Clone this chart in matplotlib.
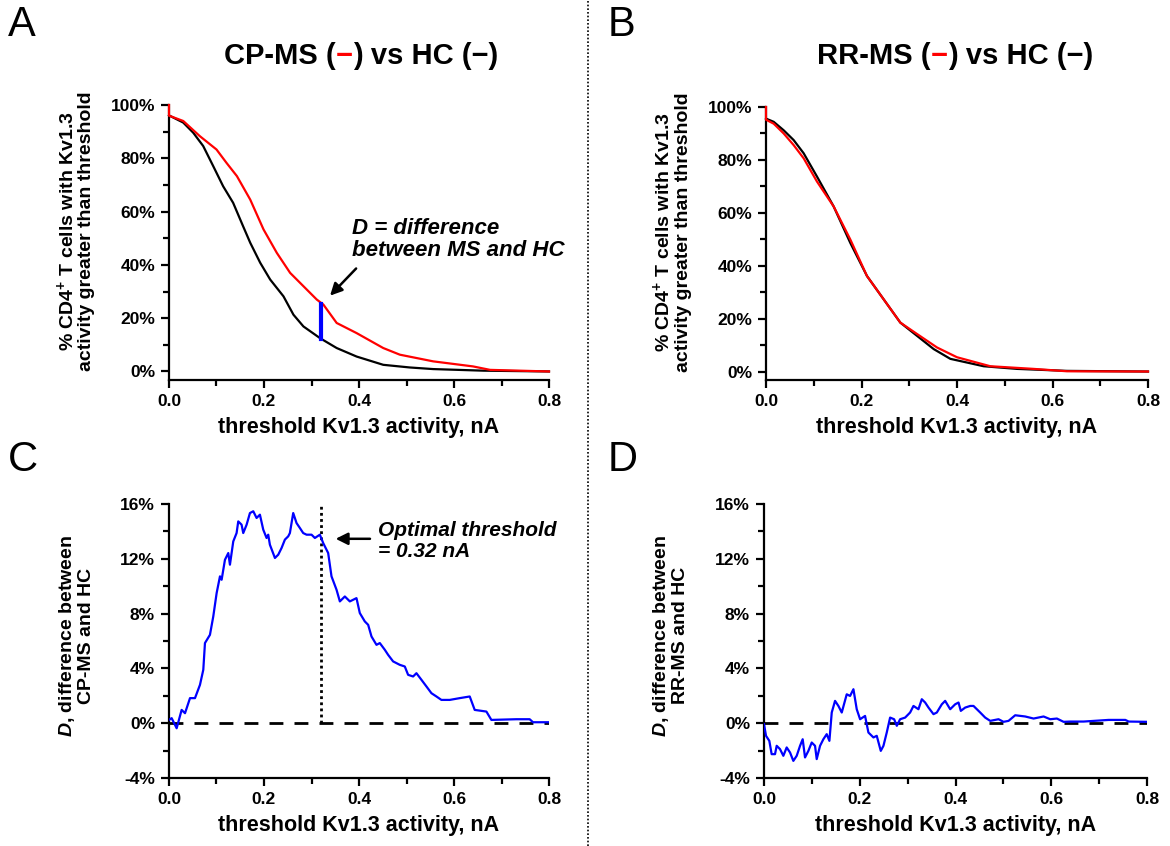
import numpy as np
import matplotlib
matplotlib.use("Agg")
import matplotlib.pyplot as plt
from matplotlib.ticker import MultipleLocator, FuncFormatter
from matplotlib.offsetbox import TextArea, HPacker, AnchoredOffsetbox
from matplotlib.lines import Line2D

plt.rcParams["font.family"] = ["Liberation Sans", "DejaVu Sans"]
plt.rcParams["font.weight"] = "bold"
plt.rcParams["mathtext.fontset"] = "custom"
plt.rcParams["mathtext.rm"] = "Liberation Sans:bold"
plt.rcParams["mathtext.it"] = "Liberation Sans:italic:bold"
plt.rcParams["mathtext.bf"] = "Liberation Sans:bold"
plt.rcParams["axes.unicode_minus"] = False

# Panel A: CP-MS vs HC cumulative curves (threshold nA, % cells)
a_hc_x = [0.0, 0.030, 0.051, 0.072, 0.093, 0.114, 0.135, 0.156, 0.171, 0.192, 0.213,
          0.241, 0.262, 0.283, 0.318, 0.353, 0.395, 0.451, 0.507, 0.556, 0.662, 0.8]
a_hc_y = [96.1, 93.4, 89.6, 84.6, 77.1, 69.5, 63.3, 54.5, 48.3, 40.8, 34.5,
          28.2, 21.3, 16.9, 12.5, 8.8, 5.6, 2.5, 1.5, 0.9, 0.3, 0.0]
a_ms_x = [0.0, 0.0, 0.030, 0.065, 0.100, 0.121, 0.143, 0.171, 0.199, 0.227, 0.255,
          0.283, 0.311, 0.325, 0.353, 0.395, 0.451, 0.486, 0.556, 0.640, 0.676, 0.8]
a_ms_y = [100.0, 96.0, 94.0, 88.3, 83.3, 78.3, 73.3, 64.5, 53.3, 44.5, 37.0,
          32.0, 27.0, 25.1, 18.2, 14.4, 8.8, 6.3, 3.8, 1.9, 0.6, 0.0]

# Panel B: RR-MS vs HC
b_hc_x = [0.0, 0.0161, 0.0370, 0.0579, 0.0789, 0.1068, 0.1417, 0.1766, 0.2115, 0.2464,
          0.2813, 0.3162, 0.3511, 0.3860, 0.4558, 0.5256, 0.6304, 0.8]
b_hc_y = [95.6, 94.4, 91.2, 87.5, 82.5, 73.7, 62.4, 48.6, 36.1, 27.3,
          18.5, 13.5, 8.5, 4.8, 2.0, 1.0, 0.25, 0.0]
b_ms_x = [0.0, 0.0, 0.0161, 0.0370, 0.0579, 0.0789, 0.1068, 0.1417, 0.1766, 0.2115, 0.2464,
          0.2813, 0.3162, 0.3581, 0.4000, 0.4698, 0.5605, 0.6304, 0.8]
b_ms_y = [100.0, 95.2, 93.7, 90.0, 85.6, 80.6, 71.8, 62.4, 49.9, 36.1, 27.3,
          18.5, 14.2, 9.1, 5.4, 2.0, 1.0, 0.1, 0.0]

# Panel C: D for CP-MS
c_x = [0.000, 0.0056, 0.0161, 0.0266, 0.0337, 0.0442, 0.0547, 0.0652, 0.0722, 0.0757,
       0.0862, 0.0932, 0.1003, 0.1073, 0.1108, 0.1178, 0.1248, 0.1283, 0.1353, 0.1423,
       0.1458, 0.1528, 0.1563, 0.1634, 0.1704, 0.1774, 0.1844, 0.1914, 0.1984, 0.2054,
       0.2089, 0.2124, 0.2230, 0.2300, 0.2370, 0.2440, 0.2510, 0.2545, 0.2615, 0.2685,
       0.2755, 0.2825, 0.2896, 0.3001, 0.3071, 0.3176, 0.3246, 0.3351, 0.3421, 0.3527,
       0.3597, 0.3702, 0.3807, 0.3947, 0.4017, 0.4122, 0.4193, 0.4263, 0.4368, 0.4438,
       0.4543, 0.4613, 0.4718, 0.4859, 0.4964, 0.5034, 0.5139, 0.5209, 0.5314, 0.5420,
       0.5525, 0.5630, 0.5735, 0.5910, 0.6121, 0.6331, 0.6436, 0.6682, 0.6787, 0.7313,
       0.7593, 0.7663, 0.8000]
c_y = [0.24, 0.37, -0.37, 0.97, 0.73, 1.83, 1.83, 2.80, 3.90, 5.85,
       6.45, 7.79, 9.50, 10.72, 10.47, 11.93, 12.42, 11.57, 13.27, 13.88,
       14.73, 14.49, 13.88, 14.49, 15.34, 15.47, 14.98, 15.22, 14.13, 13.52,
       13.76, 13.03, 12.06, 12.30, 12.79, 13.40, 13.64, 13.88, 15.34, 14.61,
       14.25, 13.88, 13.76, 13.76, 13.52, 13.76, 13.15, 12.42, 10.72, 9.74,
       8.89, 9.25, 8.89, 9.13, 8.04, 7.43, 7.18, 6.33, 5.72, 5.85,
       5.36, 4.99, 4.51, 4.26, 4.14, 3.53, 3.41, 3.65, 3.17, 2.68,
       2.19, 1.95, 1.70, 1.70, 1.83, 1.95, 0.97, 0.85, 0.24, 0.29,
       0.29, 0.07, 0.07]

# Panel D: D for RR-MS
d_x = [0.000, 0.0042, 0.0111, 0.0160, 0.0230, 0.0265, 0.0334, 0.0404, 0.0474, 0.0544,
       0.0613, 0.0683, 0.0753, 0.0808, 0.0857, 0.0927, 0.0997, 0.1066, 0.1101, 0.1171,
       0.1240, 0.1310, 0.1366, 0.1415, 0.1484, 0.1554, 0.1624, 0.1728, 0.1798, 0.1868,
       0.1937, 0.2007, 0.2111, 0.2181, 0.2286, 0.2355, 0.2439, 0.2495, 0.2564, 0.2634,
       0.2718, 0.2774, 0.2843, 0.2948, 0.3052, 0.3122, 0.3226, 0.3296, 0.3366, 0.3436,
       0.3540, 0.3610, 0.3714, 0.3784, 0.3889, 0.3993, 0.4063, 0.4111, 0.4202, 0.4307,
       0.4376, 0.4516, 0.4620, 0.4725, 0.4899, 0.5003, 0.5108, 0.5247, 0.5456, 0.5631,
       0.5840, 0.5979, 0.6118, 0.6258, 0.6397, 0.6676, 0.7198, 0.7547, 0.7617, 0.8000]
d_y = [-0.07, -0.92, -1.29, -2.26, -2.26, -1.65, -1.89, -2.38, -1.77, -2.14,
       -2.75, -2.38, -1.65, -1.17, -2.50, -2.02, -1.41, -1.65, -2.62, -1.65,
       -1.17, -0.80, -1.29, 0.78, 1.63, 1.26, 0.78, 2.11, 1.99, 2.48,
       1.02, 0.29, 0.53, -0.68, -1.04, -0.92, -2.02, -1.65, -0.68, 0.41,
       0.29, -0.19, 0.29, 0.41, 0.78, 1.26, 1.02, 1.75, 1.51, 1.14,
       0.66, 0.78, 1.38, 1.63, 1.02, 1.38, 1.51, 0.90, 1.14, 1.26,
       1.26, 0.78, 0.41, 0.17, 0.29, 0.10, 0.17, 0.58, 0.49, 0.34,
       0.49, 0.29, 0.34, 0.10, 0.12, 0.12, 0.24, 0.24, 0.12, 0.10]

opt_thr = 0.32
d_low, d_high = 12.3, 25.5

W, H = 1170, 846
fig = plt.figure(figsize=(W / 100, H / 100), dpi=100)


def rect(x0, x1, y_top, y_bot):
    return [x0 / W, 1 - y_bot / H, (x1 - x0) / W, (y_bot - y_top) / H]


def style(ax, ylim, major, minor, ylabel, ly):
    ax.set_xlim(0, 0.8)
    ax.set_ylim(*ylim)
    for s in ["top", "right"]:
        ax.spines[s].set_visible(False)
    for s in ["left", "bottom"]:
        ax.spines[s].set_linewidth(1.6)
    ax.xaxis.set_major_locator(MultipleLocator(0.2))
    ax.xaxis.set_minor_locator(MultipleLocator(0.1))
    ax.yaxis.set_major_locator(MultipleLocator(major))
    ax.yaxis.set_minor_locator(MultipleLocator(minor))
    ax.yaxis.set_major_formatter(FuncFormatter(lambda v, p: f"{v:.0f}%"))
    ax.xaxis.set_major_formatter(FuncFormatter(lambda v, p: f"{v:.1f}"))
    ax.tick_params(which="major", direction="out", length=6, width=1.6, labelsize=12.5, pad=4)
    ax.tick_params(which="minor", direction="out", length=4, width=1.6)
    for t in ax.get_xticklabels() + ax.get_yticklabels():
        t.set_fontweight("bold")
    ax.set_xlabel("threshold Kv1.3 activity, nA", fontsize=15.5, fontweight="bold", labelpad=6)
    ax.set_ylabel(ylabel, fontsize=14, fontweight="bold", linespacing=1.1)
    ax.yaxis.set_label_coords(-0.195, ly)


ylab_top = "% CD4$^{+}$ T cells with Kv1.3\nactivity greater than threshold"

axA = fig.add_axes(rect(169, 549, 105, 380))
axA.plot(a_hc_x, a_hc_y, color="black", lw=1.6, zorder=3, clip_on=False)
axA.plot(a_ms_x, a_ms_y, color="red", lw=1.6, zorder=3, clip_on=False)
axA.plot([opt_thr, opt_thr], [d_low, d_high], color="blue", lw=3, zorder=4)
style(axA, (-3.2, 100), 20, 10, ylab_top, 0.54)
axA.annotate("", xy=(0.335, 27.7), xytext=(0.398, 39.4),
             arrowprops=dict(arrowstyle="-|>", color="black", lw=1.8, mutation_scale=18))
axA.text(0.385, 49.5, "D = difference\nbetween MS and HC", fontsize=16, fontweight="bold",
         fontstyle="italic", ha="left", va="center", linespacing=1.1, clip_on=False)

axB = fig.add_axes(rect(766, 1148, 107, 380))
axB.plot(b_hc_x, b_hc_y, color="black", lw=1.6, zorder=3, clip_on=False)
axB.plot(b_ms_x, b_ms_y, color="red", lw=1.6, zorder=3, clip_on=False)
style(axB, (-3.2, 100), 20, 10, ylab_top, 0.54)

axC = fig.add_axes(rect(169, 549, 504, 778))
axC.plot(c_x, c_y, color="blue", lw=1.6, zorder=3)
axC.plot([0, 0.8], [0, 0], color="black", lw=2, dashes=(5, 4))
axC.plot([opt_thr, opt_thr], [0, 16], color="black", lw=2, linestyle=(0, (1, 1.2)))
style(axC, (-4, 16), 4, 2, "$D$, difference between\nCP-MS and HC", 0.52)
axC.annotate("", xy=(0.345, 13.46), xytext=(0.429, 13.46),
             arrowprops=dict(arrowstyle="-|>", color="black", lw=1.8, mutation_scale=18))
axC.text(0.44, 13.3, "Optimal threshold\n= 0.32 nA", fontsize=15, fontweight="bold",
         fontstyle="italic", ha="left", va="center", linespacing=1.15, clip_on=False)

axD = fig.add_axes(rect(764, 1147, 504, 778))
axD.plot(d_x, d_y, color="blue", lw=1.6, zorder=3)
axD.plot([0, 0.8], [0, 0], color="black", lw=2, dashes=(5, 4))
style(axD, (-4, 16), 4, 2, "$D$, difference between\nRR-MS and HC", 0.52)


# titles with coloured dashes
def title(xc, yc, name):
    props = dict(fontsize=21, fontweight="bold")
    parts = [TextArea(name + " (", textprops=dict(color="black", **props)),
             TextArea("\u2212", textprops=dict(color="red", **props)),
             TextArea(") vs HC (\u2212)", textprops=dict(color="black", **props))]
    box = HPacker(children=parts, align="baseline", pad=0, sep=0)
    anc = AnchoredOffsetbox(loc="center", child=box, pad=0, frameon=False,
                            bbox_to_anchor=(xc / W, 1 - yc / H),
                            bbox_transform=fig.transFigure, borderpad=0)
    fig.add_artist(anc)


title(361, 56, "CP-MS")
title(955, 56, "RR-MS")

for lab, x, y in [("A", 8, 25), ("B", 608, 25), ("C", 8, 460), ("D", 608, 460)]:
    fig.text(x / W, 1 - y / H, lab, fontsize=30, fontweight="normal", ha="left", va="center")

fig.add_artist(Line2D([588 / W, 588 / W], [0, 1], color="black", lw=1.2,
                      linestyle=(0, (1, 1.2)), transform=fig.transFigure))

fig.savefig("out.png", dpi=100)
